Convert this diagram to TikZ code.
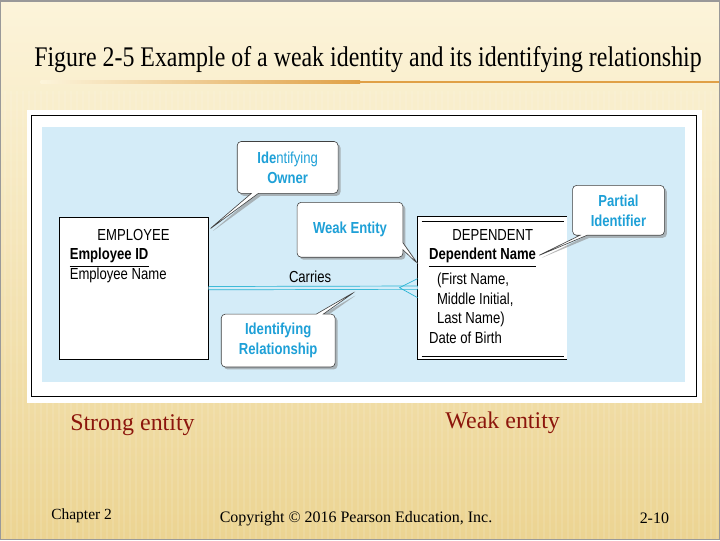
\documentclass[tikz,border=0pt]{standalone}
\usepackage{fontspec}
\setmainfont{Liberation Serif}
\setsansfont{Liberation Sans}[FakeStretch=0.82]
\newfontfamily\titlefont{Liberation Serif}[FakeStretch=0.84]
\usetikzlibrary{arrows.meta,shapes.callouts,shadows}

\definecolor{slidetop}{RGB}{252,244,218}
\definecolor{slidebot}{RGB}{236,212,146}
\definecolor{titleline}{RGB}{224,160,70}
\definecolor{diagblue}{RGB}{212,236,248}
\definecolor{relcyan}{RGB}{40,180,212}
\definecolor{tagblue}{RGB}{30,160,215}
\definecolor{notered}{RGB}{140,22,12}

\tikzset{
  entity/.style={draw=black,fill=white,line width=0.7pt,minimum width=149pt},
  attr/.style={anchor=west,font=\sffamily\fontsize{16}{18}\selectfont},
  keyattr/.style={attr,font=\sffamily\bfseries\fontsize{16}{18}\selectfont},
  tag/.style={rectangle callout,rounded corners=4pt,draw=black!75,fill=white,
    line width=0.6pt,callout pointer width=7pt,align=center,text=tagblue,
    font=\sffamily\bfseries\fontsize{16}{20}\selectfont,
    drop shadow={shadow xshift=2.5pt,shadow yshift=-2.5pt,fill=black!45,opacity=0.6}},
  relline/.style={relcyan,line width=0.7pt},
}

\begin{document}
\begin{tikzpicture}[x=1pt,y=-1pt,>=Latex,every node/.style={inner sep=0pt}]
% slide background
\shade[top color=slidetop,bottom color=slidebot] (0,0) rectangle (720,540);
\foreach \x in {4,10,...,720}
  \draw[white,opacity=0.10,line width=2pt] (\x,90) -- (\x,540);
\draw[gray!80,line width=1.5pt] (0,0) rectangle (720,540);
\useasboundingbox (0,0) rectangle (720,540);

% title
\node (title) at (368,59) {\titlefont\fontsize{28.5}{32}\selectfont Figure 2-5 Example of a weak identity and its identifying relationship};
\shade[left color=slidetop,right color=titleline] (40,80) rectangle (360,82.5);
\fill[titleline] (360,80) rectangle (720,82.5);

% figure frame
\fill[white] (26,109) rectangle (703,403);
\draw[black,line width=1pt] (31,115) rectangle (697,397);
\fill[diagblue] (41,127) rectangle (686,382);

% strong entity
\node[entity,minimum height=142pt] (emp) at (133.5,288) {};
\node[font=\sffamily\fontsize{16}{18}\selectfont] (empname) at (133,235) {EMPLOYEE};
\node[keyattr] (empkey) at (69,255) {Employee ID};
\draw[line width=0.6pt] ([yshift=-3pt]empkey.south west) -- ([yshift=-3pt]empkey.south east);
\node[attr] (empattr) at (69,275) {Employee Name};

% weak entity (double border top and bottom)
\node[entity,draw=none,minimum height=143pt] (dep) at (492.5,287.5) {};
\draw[line width=0.7pt] (dep.north east) -- (dep.north west) -- (dep.south west) -- (dep.south east);
\draw[line width=0.7pt] ([xshift=4pt,yshift=-5pt]dep.north west) -- ([xshift=-3pt,yshift=-5pt]dep.north east);
\draw[line width=0.7pt] ([xshift=4pt,yshift=3pt]dep.south west) -- ([xshift=-3pt,yshift=3pt]dep.south east);
\node[font=\sffamily\fontsize{16}{18}\selectfont] (depname) at (493,235) {DEPENDENT};
\node[keyattr] (depkey) at (429,255) {Dependent Name};
\draw[line width=0.6pt] ([yshift=-3pt]depkey.south west) -- ([yshift=-3pt]depkey.south east);
\node[attr] (depfirst) at (437,280) {(First Name,};
\node[attr] (depmid) at (437,300) {Middle Initial,};
\node[attr] (deplast) at (437,319) {Last Name)};
\node[attr] (depbirth) at (429,338) {Date of Birth};

% identifying relationship
\draw[relline,double=diagblue,double distance=2.6pt] (emp.east) -- (dep.west)
  coordinate[pos=0.70] (relmid);
\draw[relline] ([yshift=9pt]dep.west) -- ([xshift=-18pt]dep.west) -- ([yshift=-10pt]dep.west);
\node[font=\sffamily\fontsize{16}{18}\selectfont] (carries) at (310,277) {Carries};

% callouts
\node[tag,minimum width=101pt,minimum height=52pt,
  callout absolute pointer={([yshift=-13pt]emp.north east)}] (ownertag) at (287.5,167)
  {\textbf{Ide}\mdseries ntifying\\\bfseries Owner};
\node[tag,minimum width=106pt,minimum height=55pt,
  callout absolute pointer={([yshift=24pt]dep.west)}] (weaktag) at (350,229.5)
  {Weak Entity};
\node[tag,minimum width=92pt,minimum height=50pt,
  callout absolute pointer={([xshift=1pt,yshift=-1pt]depkey.east)}] (parttag) at (619,210)
  {Partial\\Identifier};
\node[tag,minimum width=114pt,minimum height=53pt,
  callout absolute pointer={([yshift=-4pt]relmid)}] (reltag) at (278,340.5)
  {Identifying\\Relationship};

% captions
\node[text=notered,font=\fontsize{24}{26}\selectfont] (strongnote) at (132,425) {Strong entity};
\node[text=notered,font=\fontsize{24}{26}\selectfont] (weaknote) at (503,423) {Weak entity};

% footer
\node[font=\fontsize{15.5}{17}\selectfont] (chapter) at (81,516) {Chapter 2};
\node[font=\fontsize{16}{18}\selectfont] (copyright) at (356,519) {Copyright \textcopyright{} 2016 Pearson Education, Inc.};
\node[font=\fontsize{16}{18}\selectfont] (pageno) at (655,519) {2-10};
\end{tikzpicture}
\end{document}
